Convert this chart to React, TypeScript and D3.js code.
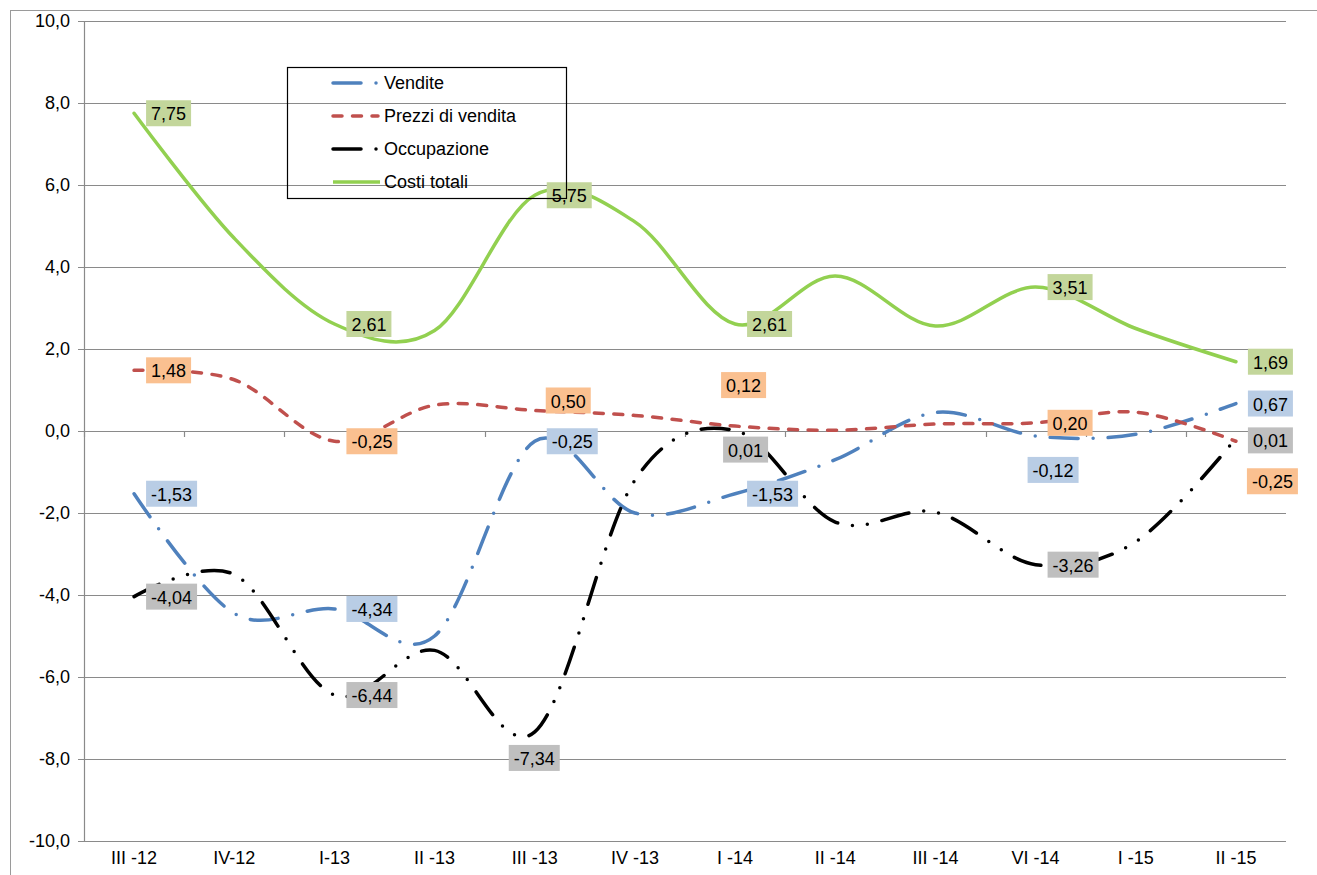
import React from "react";
import * as d3 from "d3";

const categories = ["III -12", "IV-12", "I-13", "II -13", "III -13", "IV -13", "I -14", "II -14", "III -14", "VI -14", "I -15", "II -15"];
const vendite = [-1.53, -4.45, -4.34, -5.0, -0.25, -2.0, -1.53, -0.7, 0.45, -0.12, -0.08, 0.67];
const prezzi = [1.48, 1.25, -0.25, 0.63, 0.5, 0.38, 0.12, 0.02, 0.17, 0.2, 0.46, -0.25];
const occupazione = [-4.04, -3.5, -6.44, -5.35, -7.34, -1.2, 0.01, -2.22, -1.98, -3.26, -2.7, -0.18];
const costi = [7.75, 4.7, 2.61, 2.45, 5.75, 5.1, 2.61, 3.78, 2.56, 3.51, 2.5, 1.69];
const yTicks = [-10, -8, -6, -4, -2, 0, 2, 4, 6, 8, 10];

const venditeLabels = ["-1,53", null, "-4,34", null, "-0,25", null, "-1,53", null, null, "-0,12", null, "0,67"];
const prezziLabels = ["1,48", null, "-0,25", null, "0,50", null, "0,12", null, null, "0,20", null, "-0,25"];
const occupazioneLabels = ["-4,04", null, "-6,44", null, "-7,34", null, "0,01", null, null, "-3,26", null, "0,01"];
const costiLabels = ["7,75", null, "2,61", null, "5,75", null, "2,61", null, null, "3,51", null, "1,69"];

const W = 1317;
const H = 875;
const FONT = "'Liberation Sans', Arial, sans-serif";

// label placement tweaks (pixels): [dx of box left from point, dy of box centre from point]
const labelShift: Record<string, Record<number, [number, number]>> = {
  prezzi: { 4: [11, -10], 6: [-14, -41], 11: [11, 40] },
  vendite: { 9: [-8, 34] },
  occupazione: { 4: [-26, 26], 6: [-12, 19], 11: [12, 2] },
  costi: {},
};

export default function App() {
  const x = d3.scaleBand<string>().domain(categories).range([84, 1286]).padding(0);
  const y = d3.scaleLinear().domain([-10, 10]).range([841, 21]);
  const cx = (i: number) => (x(categories[i]) as number) + x.bandwidth() / 2;

  const line = d3
    .line<number>()
    .x((_, i) => cx(i))
    .y((d) => y(d))
    .curve(d3.curveCardinal.tension(0));

  const series = [
    { key: "vendite", name: "Vendite", values: vendite, labels: venditeLabels, color: "#4f81bd", dash: "28 15 0 15", cap: "round", bg: "#b9cde5" },
    { key: "prezzi", name: "Prezzi di vendita", values: prezzi, labels: prezziLabels, color: "#c0504d", dash: "9 10.5", cap: "round", bg: "#fac090" },
    { key: "occupazione", name: "Occupazione", values: occupazione, labels: occupazioneLabels, color: "#000000", dash: "28 15 0 15 0 15", cap: "round", bg: "#bfbfbf" },
    { key: "costi", name: "Costi totali", values: costi, labels: costiLabels, color: "#92d050", dash: "none", cap: "round", bg: "#c3d69b" },
  ];

  const fmt = (v: number) => d3.format(".1f")(v).replace(".", ",").replace("−", "-");
  const boundaries = d3.range(categories.length + 1).map((i) => 84 + i * x.bandwidth());

  const charW = (s: string) => {
    let w = 0;
    for (const c of s) w += c === "," ? 5 : c === "-" ? 6 : 10;
    return w;
  };

  return (
    <div style={{ position: "fixed", left: 0, top: 0 }}>
      <svg width={W} height={H} style={{ display: "block", background: "#fff" }} fontFamily={FONT}>
        {/* outer frame */}
        <rect x={10.5} y={10.5} width={1320} height={900} fill="none" stroke="#9a9a9a" strokeWidth={1} />
        {/* gridlines */}
        {yTicks.map((t) => (
          <g key={t}>
            <line x1={78} x2={1286} y1={Math.round(y(t)) + 0.5} y2={Math.round(y(t)) + 0.5} stroke="#8a8a8a" strokeWidth={1.2} />
            <text x={70} y={y(t)} textAnchor="end" dominantBaseline="central" fontSize={18} fill="#000">
              {fmt(t)}
            </text>
          </g>
        ))}
        {/* y axis */}
        <line x1={84.5} x2={84.5} y1={y(10)} y2={y(-10)} stroke="#8a8a8a" strokeWidth={1.2} />
        {/* category ticks on zero line */}
        {boundaries.map((b, i) => (
          <line key={i} x1={Math.round(b) + 0.5} x2={Math.round(b) + 0.5} y1={y(0)} y2={y(0) + 6} stroke="#8a8a8a" strokeWidth={1.2} />
        ))}
        {categories.map((c, i) => (
          <text key={c} x={cx(i)} y={858} textAnchor="middle" dominantBaseline="central" fontSize={18} fill="#000">
            {c}
          </text>
        ))}
        {/* series */}
        {series.map((s) => (
          <path
            key={s.key}
            d={line(s.values) || ""}
            fill="none"
            stroke={s.color}
            strokeWidth={3.5}
            strokeDasharray={s.dash}
            strokeLinecap={s.cap as any}
          />
        ))}
        {/* data labels */}
        {series.map((s) =>
          s.labels.map((lab, i) => {
            if (!lab) return null;
            const sh = labelShift[s.key][i] || [12, 0];
            const w = charW(lab) + 10;
            const left = cx(i) + sh[0];
            const cy = y(s.values[i]) + sh[1];
            return (
              <g key={s.key + i}>
                <rect x={left} y={cy - 13} width={w} height={26} fill={s.bg} />
                <text x={left + w / 2} y={cy + 1} textAnchor="middle" dominantBaseline="central" fontSize={18} fill="#000">
                  {lab}
                </text>
              </g>
            );
          })
        )}
        {/* legend */}
        <rect x={287.5} y={67.5} width={279} height={131} fill="none" stroke="#000" strokeWidth={1.2} />
        {series.map((s, i) => {
          const ly = 83 + i * 33;
          return (
            <g key={"lg" + s.key}>
              <line
                x1={333}
                x2={s.key === "costi" ? 380 : 378}
                y1={ly}
                y2={ly}
                stroke={s.color}
                strokeWidth={3.5}
                strokeDasharray={s.key === "occupazione" ? "28 15 0 40" : s.dash}
                strokeLinecap={s.key === "costi" ? "butt" : (s.cap as any)}
              />
              <text x={384} y={ly} dominantBaseline="central" fontSize={18} fill="#000">
                {s.name}
              </text>
            </g>
          );
        })}
      </svg>
    </div>
  );
}
